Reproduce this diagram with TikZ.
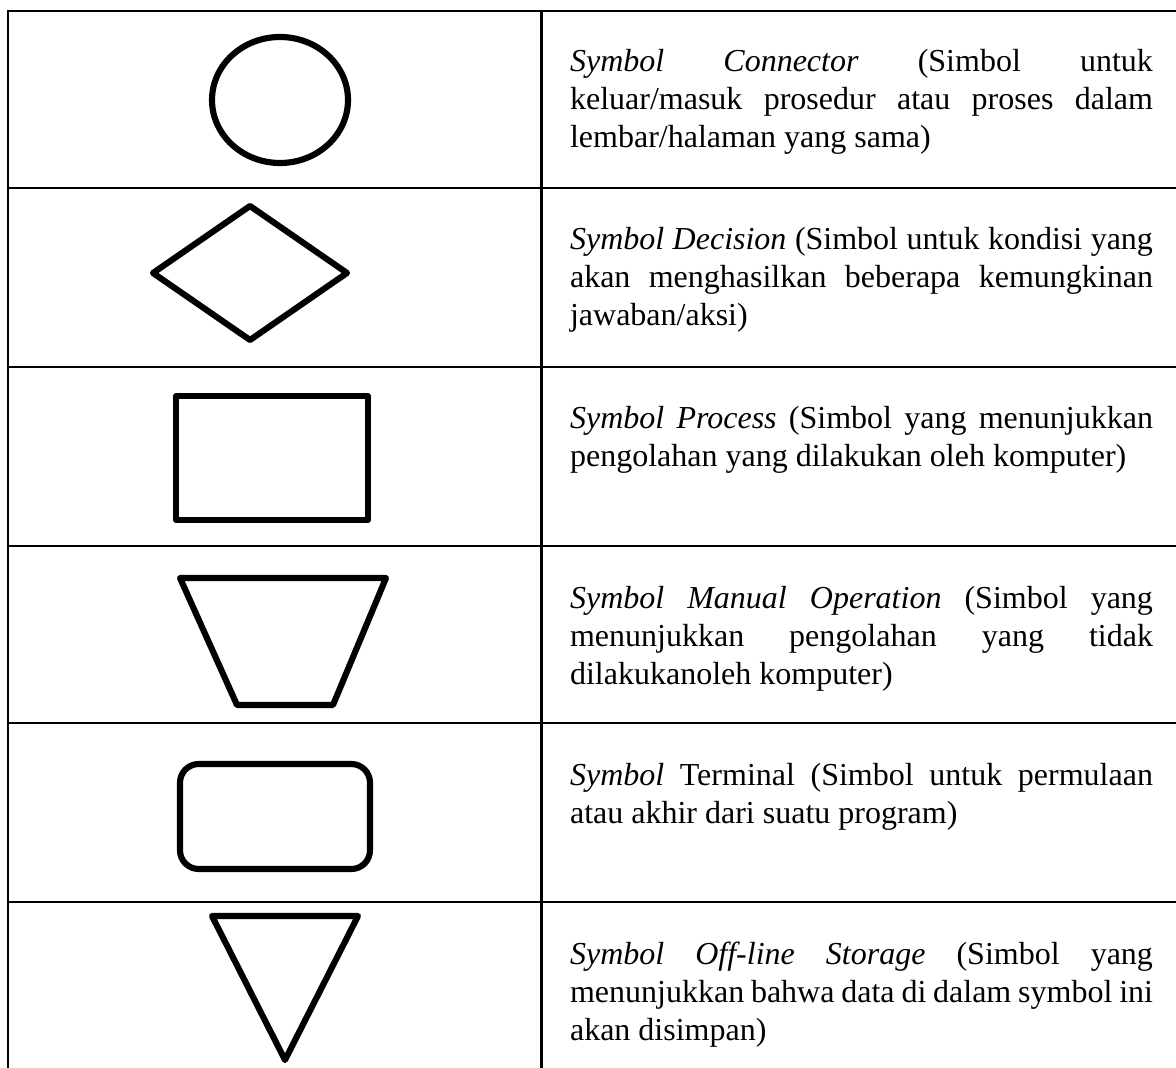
\documentclass[tikz,border=0pt]{standalone}
\usepackage{fontspec}
\setmainfont{Liberation Serif}
\newcommand{\descfont}{\fontsize{12}{14.25}\selectfont\hyphenpenalty=10000\relax\tolerance=9999\relax}
\begin{document}
\begin{tikzpicture}[x=0.375pt,y=-0.375pt,
  grid/.style={line width=1.1pt},
  symb/.style={line width=2.3pt, line join=round},
  desc/.style={anchor=base west, inner sep=0pt, text width=218.6pt, align=justify,
    font={\descfont}}]
\useasboundingbox (0,0) rectangle (1176,1068);

% table rules
\draw[grid] (1180,11) -- (8,11) -- (8,1072);
\draw[grid] (541.7,11) -- (541.7,1072);
\foreach \y in {188,367,546,723,902} \draw[grid] (8,\y) -- (1180,\y);

% flowchart symbols
\draw[symb] (280,100) ellipse [x radius=68, y radius=63];
\draw[symb] (250,206) -- (347,273) -- (250,340) -- (153,273) -- cycle;
\draw[symb] (176,396) rectangle (368,520);
\draw[symb] (180,578) -- (386,578) -- (333,705) -- (237,705) -- cycle;
\draw[symb, rounded corners=7pt] (180,764) rectangle (370,869);
\draw[symb] (212,916) -- (358,916) -- (285,1060) -- cycle;

% descriptions
\node[desc] (tconn) at (569.5,72) {\textit{Symbol Connector} (Simbol untuk\linebreak keluar/masuk prosedur atau proses dalam\linebreak lembar/halaman yang sama)};
\node[desc] (tdec) at (569.5,250) {\textit{Symbol Decision} (Simbol untuk kondisi yang\linebreak akan menghasilkan beberapa kemungkinan\linebreak jawaban/aksi)};
\node[desc] (tproc) at (569.5,429) {\textit{Symbol Process} (Simbol yang menunjukkan\linebreak pengolahan yang dilakukan oleh komputer)};
\node[desc] (tman) at (569.5,608) {\textit{Symbol Manual Operation} (Simbol yang\linebreak menunjukkan pengolahan yang tidak\linebreak dilakukanoleh komputer)};
\node[desc] (tterm) at (569.5,785) {\textit{Symbol} Terminal (Simbol untuk permulaan\linebreak atau akhir dari suatu program)};
\node[desc] (tstor) at (569.5,964) {\textit{Symbol Off-line Storage} (Simbol yang\linebreak menunjukkan bahwa data di dalam symbol ini\linebreak akan disimpan)};
\end{tikzpicture}
\end{document}
